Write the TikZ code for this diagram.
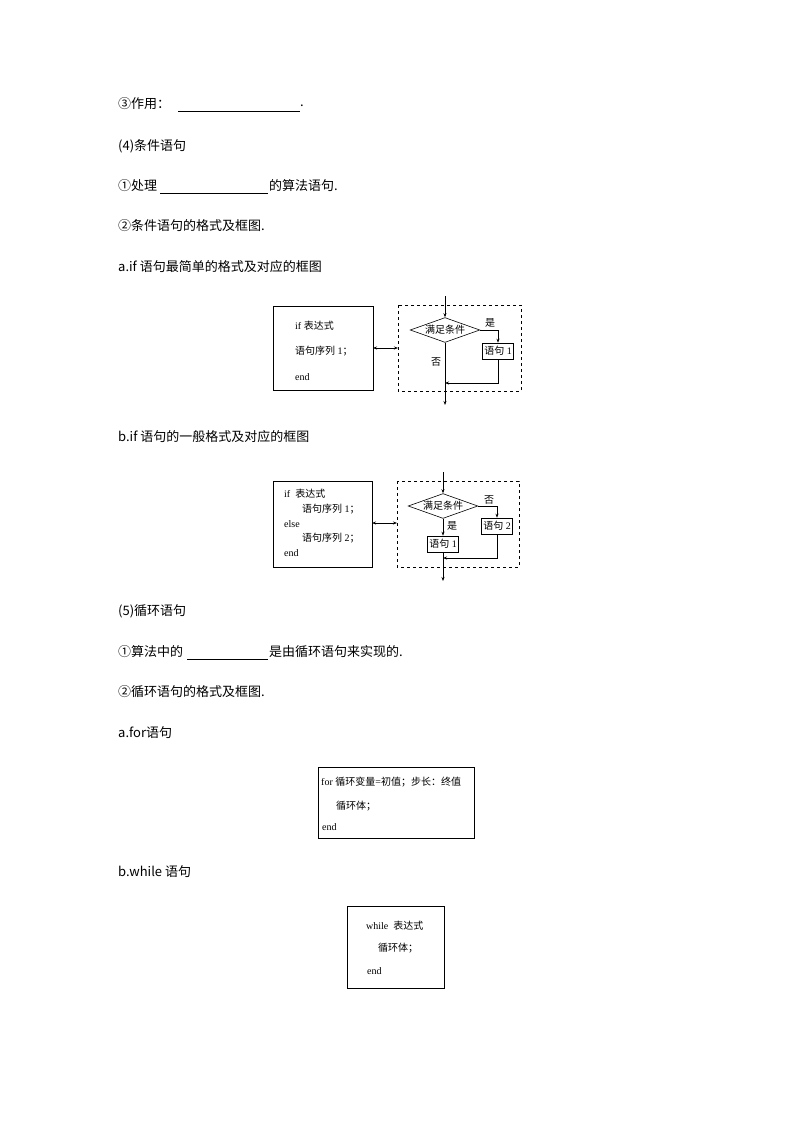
\documentclass[tikz,border=0pt]{standalone}
\usepackage{fontspec}
\setmainfont{Liberation Serif}
\newfontfamily\cjk{Noto Sans CJK SC}
\newcommand\zh[1]{{\cjk #1}}
\usetikzlibrary{shapes.geometric,arrows.meta}
\begin{document}
\begin{tikzpicture}[x=1pt,y=-1pt,
  body/.style={anchor=west,inner sep=0,font=\cjk\fontsize{13}{13}\selectfont},
  dt/.style={anchor=west,inner sep=0,font=\fontsize{10}{10}\selectfont},
  frame/.style={draw,line width=0.6pt},
  dbox/.style={draw,dashed,line width=0.6pt},
  sbox/.style={draw,line width=0.6pt,inner sep=2pt,minimum height=16pt,font=\fontsize{10}{10}\selectfont},
  dia/.style={draw,diamond,aspect=2.8,inner sep=0.5pt,line width=0.6pt,font=\cjk\fontsize{10}{10}\selectfont},
  ln/.style={line width=0.6pt},
  ar/.style={line width=0.6pt,-{Stealth[length=4pt,width=3pt]}},
  lb/.style={inner sep=0,font=\cjk\fontsize{10}{10}\selectfont}]
\useasboundingbox (0,0) rectangle (794,1123);
% texts
\node[body] (t1) at (118,104) {③作用：};
\draw[ln] (178,111) -- (300,111);
\node[body] (t1d) at (300,106) {.};
\node[body] (t2) at (118,146) {(4)条件语句};
\node[body] (t3) at (118,186) {①处理};
\draw[ln] (160,193) -- (268,193);
\node[body] (t3b) at (269,186) {的算法语句.};
\node[body] (t4) at (118,226) {②条件语句的格式及框图.};
\node[body] (t5) at (118,267) {a.if 语句最简单的格式及对应的框图};
\node[body] (t6) at (118,437) {b.if 语句的一般格式及对应的框图};
\node[body] (t7) at (118,611) {(5)循环语句};
\node[body] (t8) at (118,652) {①算法中的};
\draw[ln] (187,659) -- (268,659);
\node[body] (t8b) at (269,652) {是由循环语句来实现的.};
\node[body] (t9) at (118,692) {②循环语句的格式及框图.};
\node[body] (t10) at (118,733) {a.for语句};
\node[body] (t11) at (118,872) {b.while 语句};

% diagram 1
\draw[frame] (273,306) rectangle (373,390);
\node[dt] (a1) at (295,326) {if \zh{表达式}};
\node[dt] (a2) at (295,351) {\zh{语句序列} 1\zh{；}};
\node[dt] (a3) at (295,377) {end};
\draw[dbox] (398,305) rectangle (521,391);
\coordinate (L1) at (373,348); \coordinate (R1) at (398,348);
\draw[line width=0.6pt,{Stealth[length=4pt,width=3pt]}-{Stealth[length=4pt,width=3pt]}] (L1) -- (R1);
\coordinate (top1) at (445,296);
\node[dia] (d1) at (445,330) {满足条件};
\draw[ar] (top1) -- (d1.north);
\node[sbox] (s1) at (498,351) {\zh{语句} 1};
\draw[ar] (d1.east) -| (s1.north);
\node[lb] (y1) at (490,323) {是};
\node[lb] (n1) at (436,362) {否};
\coordinate (bot1) at (445,405);
\draw[ar] (d1.south) -- (bot1);
\coordinate (m1) at (445,383);
\draw[ar] (s1.south) |- (m1);

% diagram 2
\draw[frame] (273,481) rectangle (372,567);
\node[dt] (b1) at (284,494) {if \ \zh{表达式}};
\node[dt] (b2) at (302,509) {\zh{语句序列} 1\zh{；}};
\node[dt] (b3) at (284,524) {else};
\node[dt] (b4) at (302,538) {\zh{语句序列} 2\zh{；}};
\node[dt] (b5) at (284,553) {end};
\draw[dbox] (397,481) rectangle (519,567);
\coordinate (L2) at (372,523); \coordinate (R2) at (397,523);
\draw[line width=0.6pt,{Stealth[length=4pt,width=3pt]}-{Stealth[length=4pt,width=3pt]}] (L2) -- (R2);
\coordinate (top2) at (443,472);
\node[dia] (d2) at (443,506) {满足条件};
\draw[ar] (top2) -- (d2.north);
\node[sbox] (s2) at (497,526) {\zh{语句} 2};
\draw[ar] (d2.east) -| (s2.north);
\node[lb] (n2) at (489,500) {否};
\node[sbox] (s3) at (443,544) {\zh{语句} 1};
\draw[ar] (d2.south) -- (s3.north);
\node[lb] (y2) at (452,526) {是};
\coordinate (bot2) at (443,581);
\draw[ar] (s3.south) -- (bot2);
\coordinate (m2) at (443,558);
\draw[ar] (s2.south) |- (m2);

% for box
\draw[frame] (318,767) rectangle (474,838);
\node[dt] (f1) at (321,782) {for \zh{循环变量}=\zh{初值；步长：终值}};
\node[dt] (f2) at (336,806) {\zh{循环体；}};
\node[dt] (f3) at (322,827) {end};

% while box
\draw[frame] (347,906) rectangle (444,988);
\node[dt] (w1) at (366,926) {while \ \zh{表达式}};
\node[dt] (w2) at (378,948) {\zh{循环体；}};
\node[dt] (w3) at (367,971) {end};
\end{tikzpicture}
\end{document}
